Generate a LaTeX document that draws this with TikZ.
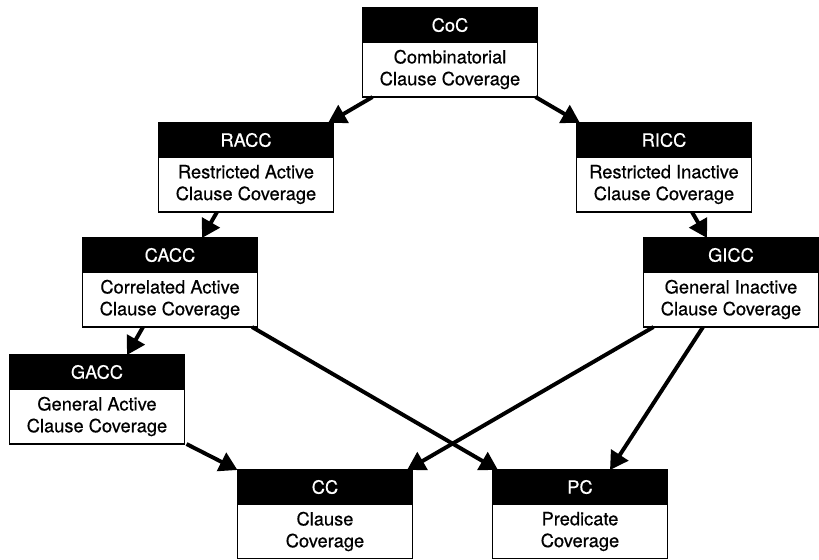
\documentclass[tikz,border=0pt]{standalone}
\usepackage{fontspec}
\setmainfont{TeX Gyre Heros}
\newfontfamily\critfont{TeX Gyre Heros}[FakeBold=0.5]
\usepackage{tikz}
\usetikzlibrary{arrows.meta,positioning,calc}

\begin{document}
\begin{tikzpicture}[x=0.025cm,y=-0.025cm,
crithead/.style={fill=black,draw=black,line width=1pt,text=white,minimum width=4.375cm,minimum height=0.85cm,inner sep=0pt,outer sep=0pt,font=\fontsize{13}{15.5}\critfont},
critbody/.style={fill=white,draw=black,line width=1pt,minimum width=4.375cm,minimum height=1.375cm,inner sep=0pt,outer sep=0pt,align=center,font=\fontsize{13}{15.5}\critfont,below=0pt of #1},
implies/.style={-{Triangle[length=0.45cm,width=0.5cm]},line width=2.8pt}]
\useasboundingbox (0,0) rectangle (819,559);
\clip (0,0) rectangle (819,558);
% criteria boxes
\node[crithead] (cocHead) at (450,25) {CoC};
\node[critbody=cocHead] (coc) {Combinatorial\\Clause Coverage};
\node[crithead] (raccHead) at (246,140) {RACC};
\node[critbody=raccHead] (racc) {Restricted Active\\Clause Coverage};
\node[crithead] (riccHead) at (664,140) {RICC};
\node[critbody=riccHead] (ricc) {Restricted Inactive\\Clause Coverage};
\node[crithead] (caccHead) at (170,255) {CACC};
\node[critbody=caccHead] (cacc) {Correlated Active\\Clause Coverage};
\node[crithead] (giccHead) at (731,255) {GICC};
\node[critbody=giccHead] (gicc) {General Inactive\\Clause Coverage};
\node[crithead] (gaccHead) at (97,372) {GACC};
\node[critbody=gaccHead] (gacc) {General Active\\Clause Coverage};
\node[crithead] (ccHead) at (325,487) {CC};
\node[critbody=ccHead] (cc) {Clause\\Coverage};
\node[crithead] (pcHead) at (580,487) {PC};
\node[critbody=pcHead] (pc) {Predicate\\Coverage};
% subsumption
\draw[implies] ($(coc.south west)+(10,0)$) -- ($(raccHead.north east)+(-5.5,0)$);
\draw[implies] ($(coc.south east)+(-2,0)$) -- ($(riccHead.north west)+(3.5,0)$);
\draw[implies] ($(racc.south)+(-29,0)$) -- ($(caccHead.north)+(32,0)$);
\draw[implies] ($(ricc.south)+(28,0)$) -- ($(giccHead.north)+(-24,0)$);
\draw[implies] ($(cacc.south)+(-27,0)$) -- ($(gaccHead.north)+(30,0)$);
\draw[implies] ($(cacc.south east)+(-5.5,0)$) -- ($(pcHead.north west)+(5.5,0)$);
\draw[implies] ($(gicc.south west)+(10,0)$) -- ($(ccHead.north east)+(-5.5,0)$);
\draw[implies] ($(gicc.south)+(-28,0)$) -- ($(pcHead.north)+(30,0)$);
\draw[implies] ($(gacc.south east)+(2,0)$) -- (ccHead.north west);
\end{tikzpicture}
\end{document}
